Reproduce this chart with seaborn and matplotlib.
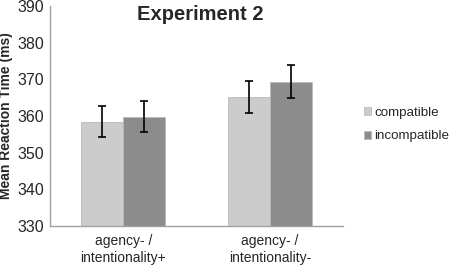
import pandas as pd
import numpy as np
import matplotlib
matplotlib.use('Agg')
import matplotlib.pyplot as plt
import seaborn as sns

sns.set_style('white')
plt.rcParams['font.family'] = ['Liberation Sans', 'DejaVu Sans']

# data
conditions = ['agency- /\nintentionality+', 'agency- /\nintentionality-']
groups = ['compatible', 'incompatible']
compatible_rt = [358.4, 365.1]
incompatible_rt = [359.8, 369.4]
compatible_err = [4.2, 4.4]
incompatible_err = [4.2, 4.4]

df = pd.DataFrame({
    'condition': conditions * 2,
    'group': [groups[0]] * 2 + [groups[1]] * 2,
    'rt': compatible_rt + incompatible_rt,
    'err': compatible_err + incompatible_err,
})

fig = plt.figure(figsize=(4.54, 2.67), dpi=100)
ax = fig.add_axes([0.110, 0.1536, 0.646, 0.824])

palette = {'compatible': '#cccccc', 'incompatible': '#8c8c8c'}
sns.barplot(data=df, x='condition', y='rt', hue='group', palette=palette,
            width=0.57, errorbar=None, ax=ax, saturation=1,
            edgecolor='#bbbbbb', linewidth=0.6)

# error bars at bar centres
for cont, g in zip(ax.containers, groups):
    sub = df[df['group'] == g]
    xs = [p.get_x() + p.get_width() / 2 for p in cont.patches]
    ax.errorbar(xs, sub['rt'], yerr=sub['err'], fmt='none', ecolor='black',
                elinewidth=1.2, capsize=2.6, capthick=1.2)

ax.set_ylim(330, 390)
ax.set_yticks(range(330, 391, 10))
ax.set_xlim(-0.5, 1.5)
ax.tick_params(axis='y', labelsize=11.5, length=0, pad=4)
ax.tick_params(axis='x', labelsize=10, length=0, pad=6)
ax.set_xlabel('')
ax.set_ylabel('Mean Reaction Time (ms)', fontsize=10, fontweight='bold', labelpad=3)
for s in ['top', 'right']:
    ax.spines[s].set_visible(False)
for s in ['left', 'bottom']:
    ax.spines[s].set_color('#a0a0a0')
    ax.spines[s].set_linewidth(1)

fig.text(0.44, 0.945, 'Experiment 2', fontsize=14.5, fontweight='bold', ha='center', va='center')

ax.legend(loc='center left', bbox_to_anchor=(1.07, 0.46), borderaxespad=0, borderpad=0,
          frameon=False, fontsize=9.6,
          handlelength=0.55, handleheight=0.55, handletextpad=0.25, labelspacing=0.85)

fig.savefig('out.png', dpi=100)
